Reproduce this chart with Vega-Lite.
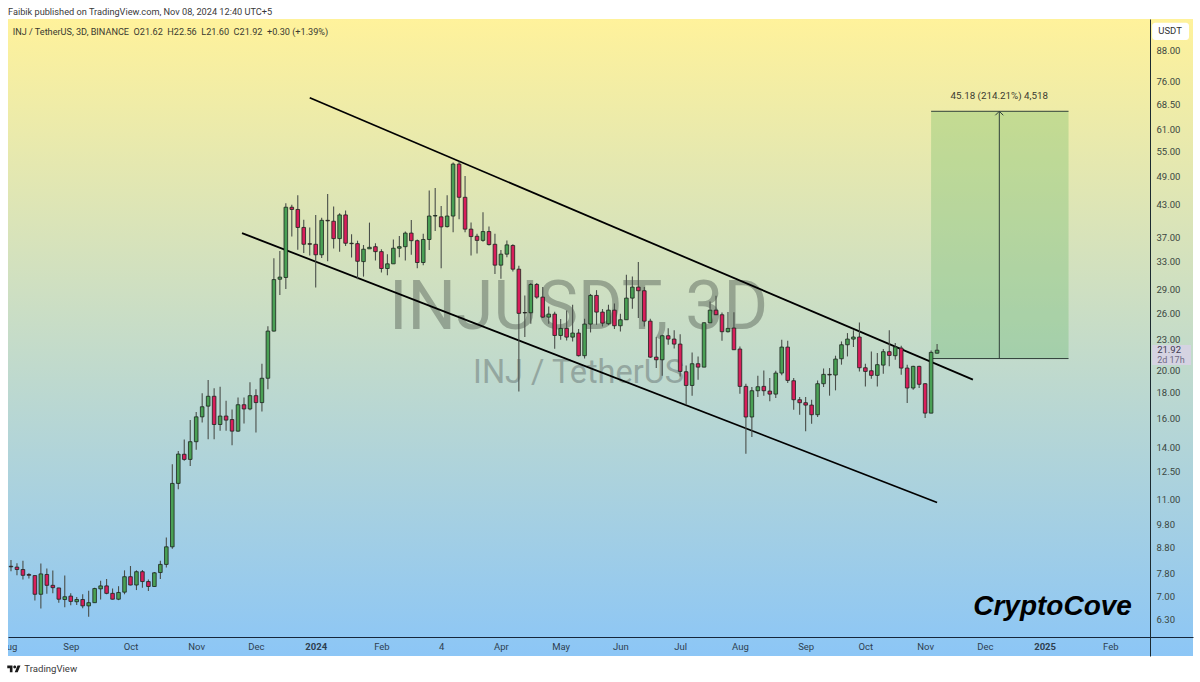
{"$schema":"https://vega.github.io/schema/vega-lite/v6.json","autosize":{"type":"none"},"width":1185,"height":637,"padding":{"left":8,"top":19,"right":7,"bottom":26},"background":"#ffffff","title":{"text":"Faibik published on TradingView.com, Nov 08, 2024 12:40 UTC+5","anchor":"start","frame":"group","font":"Roboto","fontSize":9.2,"fontWeight":"normal","color":"#3a3a3a","offset":2},"config":{"view":{"stroke":null},"font":"Roboto"},"data":{"values":[
{"date":"2023-08-01","open":8.06,"high":8.3,"low":7.88,"close":8.04},{"date":"2023-08-04","open":8.03,"high":8.17,"low":7.73,"close":7.94},{"date":"2023-08-07","open":7.94,"high":8.27,"low":7.58,"close":7.73},{"date":"2023-08-10","open":7.76,"high":7.8,"low":7.62,"close":7.73},{"date":"2023-08-13","open":7.72,"high":7.72,"low":6.88,"close":7.08},{"date":"2023-08-16","open":7.08,"high":8.16,"low":6.63,"close":7.78},{"date":"2023-08-19","open":7.76,"high":7.98,"low":7.1,"close":7.38},{"date":"2023-08-22","open":7.38,"high":7.9,"low":7.11,"close":7.3},{"date":"2023-08-25","open":7.29,"high":7.3,"low":6.81,"close":6.92},{"date":"2023-08-28","open":6.91,"high":7.72,"low":6.67,"close":7.0},{"date":"2023-08-31","open":7.02,"high":7.11,"low":6.73,"close":6.85},
{"date":"2023-09-03","open":6.84,"high":6.99,"low":6.74,"close":6.91},{"date":"2023-09-06","open":6.91,"high":7.08,"low":6.64,"close":6.71},{"date":"2023-09-09","open":6.71,"high":7.2,"low":6.38,"close":6.81},{"date":"2023-09-12","open":6.81,"high":7.3,"low":6.81,"close":7.27},{"date":"2023-09-15","open":7.26,"high":7.54,"low":6.91,"close":7.36},{"date":"2023-09-18","open":7.36,"high":7.6,"low":7.08,"close":7.11},{"date":"2023-09-21","open":7.11,"high":7.27,"low":6.91,"close":6.92},{"date":"2023-09-24","open":6.92,"high":7.35,"low":6.89,"close":7.14},{"date":"2023-09-27","open":7.15,"high":7.91,"low":7.08,"close":7.68},{"date":"2023-09-30","open":7.68,"high":8.07,"low":7.38,"close":7.39},
{"date":"2023-10-03","open":7.39,"high":7.91,"low":7.22,"close":7.86},{"date":"2023-10-06","open":7.86,"high":7.92,"low":7.3,"close":7.51},{"date":"2023-10-09","open":7.51,"high":7.58,"low":7.19,"close":7.34},{"date":"2023-10-12","open":7.34,"high":7.85,"low":7.33,"close":7.82},{"date":"2023-10-15","open":7.83,"high":8.27,"low":7.6,"close":8.13},{"date":"2023-10-18","open":8.13,"high":9.21,"low":8.01,"close":8.82},{"date":"2023-10-21","open":8.82,"high":12.92,"low":8.74,"close":11.83},{"date":"2023-10-24","open":11.83,"high":13.74,"low":11.52,"close":13.55},{"date":"2023-10-27","open":13.54,"high":14.5,"low":13.14,"close":13.22},{"date":"2023-10-30","open":13.22,"high":15.86,"low":12.82,"close":14.35},
{"date":"2023-11-02","open":14.35,"high":16.47,"low":13.83,"close":16.1},{"date":"2023-11-05","open":16.1,"high":17.95,"low":15.69,"close":16.87},{"date":"2023-11-08","open":16.92,"high":19.09,"low":14.51,"close":17.71},{"date":"2023-11-11","open":17.71,"high":18.37,"low":14.51,"close":15.54},{"date":"2023-11-14","open":15.54,"high":18.5,"low":15.09,"close":16.16},{"date":"2023-11-17","open":16.16,"high":17.35,"low":15.09,"close":15.86},{"date":"2023-11-20","open":15.9,"high":16.66,"low":14.12,"close":15.07},{"date":"2023-11-23","open":15.07,"high":17.6,"low":15.03,"close":17.03},{"date":"2023-11-26","open":17.03,"high":17.6,"low":15.62,"close":16.7},{"date":"2023-11-29","open":16.7,"high":18.9,"low":16.6,"close":17.76},
{"date":"2023-12-02","open":17.76,"high":18.3,"low":14.98,"close":17.2},{"date":"2023-12-05","open":17.2,"high":20.58,"low":16.5,"close":19.25},{"date":"2023-12-08","open":19.25,"high":24.5,"low":18.3,"close":23.95},{"date":"2023-12-11","open":23.95,"high":33.56,"low":23.9,"close":30.4},{"date":"2023-12-14","open":30.45,"high":34.7,"low":28.3,"close":30.75},{"date":"2023-12-17","open":30.7,"high":43.3,"low":29.1,"close":42.5},{"date":"2023-12-20","open":42.5,"high":42.97,"low":37.1,"close":42.06},{"date":"2023-12-23","open":42.06,"high":44.9,"low":34.9,"close":38.7},{"date":"2023-12-26","open":38.7,"high":40.1,"low":34.4,"close":35.8},{"date":"2023-12-29","open":35.9,"high":38.7,"low":34.0,"close":35.8},
{"date":"2024-01-01","open":35.8,"high":41.0,"low":29.3,"close":34.1},{"date":"2024-01-04","open":34.1,"high":40.5,"low":33.6,"close":40.0},{"date":"2024-01-07","open":40.0,"high":45.2,"low":33.1,"close":39.9},{"date":"2024-01-10","open":39.83,"high":42.63,"low":35.09,"close":36.75},{"date":"2024-01-13","open":36.75,"high":41.33,"low":34.6,"close":41.01},{"date":"2024-01-16","open":41.01,"high":41.84,"low":35.53,"close":35.97},{"date":"2024-01-19","open":35.97,"high":37.5,"low":33.66,"close":35.9},{"date":"2024-01-22","open":35.9,"high":36.4,"low":30.45,"close":33.09},{"date":"2024-01-25","open":33.04,"high":35.68,"low":30.82,"close":34.99},{"date":"2024-01-28","open":35.05,"high":39.58,"low":35.05,"close":35.3},{"date":"2024-01-31","open":35.4,"high":35.97,"low":33.2,"close":34.6},
{"date":"2024-02-03","open":34.6,"high":34.99,"low":31.4,"close":32.0},{"date":"2024-02-06","open":32.0,"high":34.2,"low":31.0,"close":32.7},{"date":"2024-02-09","open":32.7,"high":36.6,"low":32.7,"close":35.15},{"date":"2024-02-12","open":35.15,"high":37.2,"low":33.7,"close":35.4},{"date":"2024-02-15","open":35.4,"high":37.97,"low":33.2,"close":37.7},{"date":"2024-02-18","open":37.7,"high":40.07,"low":34.1,"close":36.4},{"date":"2024-02-21","open":36.4,"high":36.6,"low":32.04,"close":32.9},{"date":"2024-02-24","open":32.9,"high":37.6,"low":32.5,"close":36.6},{"date":"2024-02-27","open":36.6,"high":45.9,"low":34.87,"close":40.8},
{"date":"2024-03-01","open":40.8,"high":46.47,"low":38.08,"close":40.9},{"date":"2024-03-04","open":40.65,"high":42.75,"low":32.04,"close":38.8},{"date":"2024-03-07","open":38.85,"high":44.9,"low":38.7,"close":40.8},{"date":"2024-03-10","open":40.8,"high":52.25,"low":37.85,"close":51.9},{"date":"2024-03-13","open":51.9,"high":52.5,"low":40.2,"close":44.5},{"date":"2024-03-16","open":44.5,"high":49.1,"low":37.85,"close":38.4},{"date":"2024-03-19","open":38.4,"high":39.6,"low":34.0,"close":37.1},{"date":"2024-03-22","open":37.15,"high":37.6,"low":34.3,"close":36.45},{"date":"2024-03-25","open":36.45,"high":41.5,"low":36.2,"close":37.97},{"date":"2024-03-28","open":37.97,"high":38.85,"low":35.6,"close":35.75},{"date":"2024-03-31","open":35.8,"high":37.6,"low":31.2,"close":32.5},
{"date":"2024-04-03","open":32.5,"high":34.87,"low":30.5,"close":34.2},{"date":"2024-04-06","open":34.2,"high":36.45,"low":33.7,"close":35.7},{"date":"2024-04-09","open":35.6,"high":35.8,"low":31.55,"close":31.9},{"date":"2024-04-12","open":31.9,"high":32.4,"low":18.1,"close":26.0},{"date":"2024-04-15","open":26.1,"high":28.25,"low":23.29,"close":26.05},{"date":"2024-04-18","open":26.07,"high":29.91,"low":24.78,"close":29.72},{"date":"2024-04-21","open":29.72,"high":29.91,"low":27.83,"close":28.03},{"date":"2024-04-24","open":28.03,"high":29.36,"low":25.44,"close":25.55},{"date":"2024-04-27","open":25.55,"high":26.85,"low":24.78,"close":25.91},{"date":"2024-04-30","open":25.91,"high":26.2,"low":22.07,"close":23.47},
{"date":"2024-05-03","open":23.47,"high":25.32,"low":23.01,"close":24.25},{"date":"2024-05-06","open":24.25,"high":26.35,"low":22.94,"close":23.29},{"date":"2024-05-09","open":23.29,"high":27.06,"low":22.83,"close":23.73},{"date":"2024-05-12","open":23.73,"high":24.17,"low":21.3,"close":21.37},{"date":"2024-05-15","open":21.37,"high":25.36,"low":21.1,"close":24.74},{"date":"2024-05-18","open":24.74,"high":28.45,"low":23.8,"close":28.25},{"date":"2024-05-21","open":28.25,"high":28.95,"low":24.66,"close":26.15},{"date":"2024-05-24","open":26.15,"high":26.52,"low":24.47,"close":24.85},{"date":"2024-05-27","open":24.78,"high":27.06,"low":24.63,"close":26.39},{"date":"2024-05-30","open":26.39,"high":27.2,"low":24.17,"close":24.55},
{"date":"2024-06-02","open":24.55,"high":25.95,"low":23.91,"close":25.24},{"date":"2024-06-05","open":25.24,"high":31.08,"low":25.24,"close":27.9},{"date":"2024-06-08","open":27.9,"high":30.85,"low":26.55,"close":29.36},{"date":"2024-06-11","open":29.36,"high":32.96,"low":25.44,"close":28.87},{"date":"2024-06-14","open":28.87,"high":29.36,"low":24.47,"close":25.08},{"date":"2024-06-17","open":25.08,"high":25.36,"low":21.14,"close":21.23},{"date":"2024-06-20","open":21.23,"high":23.29,"low":20.18,"close":20.97},{"date":"2024-06-23","open":20.97,"high":23.55,"low":19.47,"close":23.44},{"date":"2024-06-26","open":23.44,"high":24.28,"low":22.48,"close":23.08},{"date":"2024-06-29","open":23.08,"high":24.05,"low":22.1,"close":22.55},
{"date":"2024-07-02","open":22.55,"high":23.6,"low":19.41,"close":19.87},{"date":"2024-07-05","open":19.84,"high":20.43,"low":17.03,"close":18.62},{"date":"2024-07-08","open":18.62,"high":21.7,"low":17.75,"close":20.59},{"date":"2024-07-11","open":20.59,"high":21.3,"low":19.12,"close":20.27},{"date":"2024-07-14","open":20.27,"high":24.95,"low":20.25,"close":24.89},{"date":"2024-07-17","open":24.89,"high":27.47,"low":24.85,"close":26.39},{"date":"2024-07-20","open":26.39,"high":28.2,"low":25.8,"close":25.83},{"date":"2024-07-23","open":25.83,"high":26.11,"low":22.9,"close":23.88},{"date":"2024-07-26","open":23.88,"high":26.15,"low":23.8,"close":24.25},{"date":"2024-07-29","open":24.29,"high":26.12,"low":21.95,"close":21.97},
{"date":"2024-08-01","open":22.04,"high":22.3,"low":17.92,"close":18.54},{"date":"2024-08-04","open":18.54,"high":18.77,"low":13.57,"close":16.09},{"date":"2024-08-07","open":16.09,"high":18.48,"low":14.66,"close":18.17},{"date":"2024-08-10","open":18.17,"high":19.48,"low":17.65,"close":18.51},{"date":"2024-08-13","open":18.54,"high":19.96,"low":17.76,"close":18.17},{"date":"2024-08-16","open":18.14,"high":19.27,"low":17.3,"close":17.89},{"date":"2024-08-19","open":17.89,"high":19.93,"low":17.56,"close":19.72},{"date":"2024-08-22","open":19.72,"high":23.01,"low":19.51,"close":22.24},{"date":"2024-08-25","open":22.24,"high":22.9,"low":18.83,"close":19.06},{"date":"2024-08-28","open":19.03,"high":19.27,"low":16.64,"close":17.43},{"date":"2024-08-31","open":17.43,"high":17.65,"low":16.26,"close":17.19},
{"date":"2024-09-03","open":17.19,"high":17.65,"low":15.06,"close":17.0},{"date":"2024-09-06","open":17.0,"high":17.43,"low":15.6,"close":16.26},{"date":"2024-09-09","open":16.26,"high":19.06,"low":16.09,"close":18.77},{"date":"2024-09-12","open":18.77,"high":20.15,"low":18.48,"close":19.6},{"date":"2024-09-15","open":19.6,"high":20.18,"low":17.76,"close":19.55},{"date":"2024-09-18","open":19.54,"high":21.37,"low":18.2,"close":21.04},{"date":"2024-09-21","open":21.07,"high":22.83,"low":20.5,"close":22.48},{"date":"2024-09-24","open":22.48,"high":23.73,"low":21.3,"close":23.08},{"date":"2024-09-27","open":23.08,"high":24.03,"low":22.24,"close":23.3},{"date":"2024-09-30","open":23.3,"high":24.93,"low":19.87,"close":20.21},
{"date":"2024-10-03","open":20.21,"high":20.59,"low":18.54,"close":19.87},{"date":"2024-10-06","open":19.93,"high":21.8,"low":19.21,"close":19.51},{"date":"2024-10-09","open":19.51,"high":21.63,"low":18.54,"close":20.5},{"date":"2024-10-12","open":20.46,"high":22.04,"low":19.66,"close":21.77},{"date":"2024-10-15","open":21.77,"high":24.03,"low":20.34,"close":21.4},{"date":"2024-10-18","open":21.37,"high":22.66,"low":20.98,"close":22.24},{"date":"2024-10-21","open":22.14,"high":22.38,"low":19.57,"close":20.18},{"date":"2024-10-24","open":20.18,"high":20.5,"low":17.17,"close":18.4},{"date":"2024-10-27","open":18.4,"high":20.4,"low":18.26,"close":20.34},{"date":"2024-10-30","open":20.34,"high":20.4,"low":18.4,"close":18.72},
{"date":"2024-11-02","open":18.77,"high":18.83,"low":16.01,"close":16.38},{"date":"2024-11-05","open":16.38,"high":21.9,"low":16.38,"close":21.7},{"date":"2024-11-08","open":21.62,"high":22.56,"low":21.6,"close":21.92}
]},
"layer":[
{"data":{"values":[{"from":"2023-07-30T12:00:00Z","to":"2025-03-16T12:00:00Z","floor":5.32,"ceiling":101.6}]},"mark":{"type":"rect","color":{"gradient":"linear","x1":0,"y1":0,"x2":0,"y2":1,"stops":[{"offset":0,"color":"#fff29b"},{"offset":1,"color":"#8cc6f6"}]}},"encoding":{"x":{"field":"from","type":"temporal","scale":{"type":"utc","domain":["2023-07-30T12:00:00Z","2025-03-16T12:00:00Z"],"nice":false,"padding":0},"axis":{"orient":"bottom","offset":-19,"title":null,"grid":false,"ticks":false,"zindex":1,"domainColor":"#16263a","domainWidth":1,"labelFont":"Roboto","labelFontSize":9.5,"labelColor":"#2e3f50","labelPadding":4,"labelOverlap":false,"labelFlush":false,"values":["2023-08-31T00:00:00Z","2023-09-30T00:00:00Z","2023-11-02T00:00:00Z","2023-12-02T00:00:00Z","2024-01-01T00:00:00Z","2024-02-03T00:00:00Z","2024-03-04T00:00:00Z","2024-04-03T00:00:00Z","2024-05-03T00:00:00Z","2024-06-02T00:00:00Z","2024-07-02T00:00:00Z","2024-08-01T00:00:00Z","2024-09-03T00:00:00Z","2024-10-03T00:00:00Z","2024-11-02T00:00:00Z","2024-12-02T00:00:00Z","2025-01-01T00:00:00Z","2025-02-03T00:00:00Z"],"labelExpr":"utcmonth(datum.value)==0 ? utcFormat(datum.value,'%Y') : (utcmonth(datum.value)==2 ? '4' : utcFormat(time(datum.value)+172800000,'%b'))","labelFontWeight":{"condition":{"test":"utcmonth(datum.value)==0","value":"bold"},"value":"normal"}}},"x2":{"field":"to"},"y":{"field":"floor","type":"quantitative","scale":{"type":"log","domain":[5.32,101.6],"nice":false},"axis":{"orient":"right","offset":-43,"title":null,"grid":false,"ticks":false,"zindex":1,"domainColor":"#1c2a30","domainWidth":1,"labelFont":"Roboto","labelFontSize":9.5,"labelColor":"#3a4640","labelPadding":6,"labelOverlap":false,"labelFlush":false,"format":".2f","values":[88,76,68.5,61,55,49,43,37,33,29,26,23,20,18,16,14,12.5,11,9.8,8.8,7.8,7,6.3]}},"y2":{"field":"ceiling"}}},
{"data":{"values":[{"date":"2024-05-12","price":26.5,"label":"INJUSDT, 3D"}]},"mark":{"type":"text","font":"Roboto","fontSize":68,"color":"#5f6a5f","opacity":0.5,"align":"center","baseline":"middle"},"encoding":{"x":{"field":"date","type":"temporal"},"y":{"field":"price","type":"quantitative"},"text":{"field":"label"}}},
{"data":{"values":[{"date":"2024-05-12","price":19.72,"label":"INJ / TetherUS"}]},"mark":{"type":"text","font":"Roboto","fontSize":32.5,"color":"#5f6a6a","opacity":0.45,"align":"center","baseline":"middle"},"encoding":{"x":{"field":"date","type":"temporal"},"y":{"field":"price","type":"quantitative"},"text":{"field":"label"}}},
{"data":{"name":"target","values":[{"start":"2024-11-05","end":"2025-01-13","mid":"2024-12-09T06:00:00Z","low":21.09,"high":66.27,"label":"45.18 (214.21%) 4,518"}]},"mark":{"type":"rect","color":"#4caf50","opacity":0.26},"encoding":{"x":{"field":"start","type":"temporal"},"x2":{"field":"end"},"y":{"field":"low","type":"quantitative"},"y2":{"field":"high"}}},
{"data":{"name":"target"},"mark":{"type":"rule","color":"#30403a","strokeWidth":1},"encoding":{"x":{"field":"start","type":"temporal"},"x2":{"field":"end"},"y":{"field":"low","type":"quantitative"}}},
{"data":{"name":"target"},"mark":{"type":"rule","color":"#30403a","strokeWidth":1},"encoding":{"x":{"field":"start","type":"temporal"},"x2":{"field":"end"},"y":{"field":"high","type":"quantitative"}}},
{"data":{"name":"target"},"mark":{"type":"rule","color":"#30403a","strokeWidth":1},"encoding":{"x":{"field":"mid","type":"temporal"},"y":{"field":"low","type":"quantitative"},"y2":{"field":"high"}}},
{"data":{"name":"target"},"mark":{"type":"point","shape":"M-1,1L0,0L1,1","size":64,"filled":false,"color":"#30403a","strokeWidth":1,"opacity":1},"encoding":{"x":{"field":"mid","type":"temporal"},"y":{"field":"high","type":"quantitative"}}},
{"data":{"name":"target"},"mark":{"type":"text","font":"Roboto","fontSize":9.8,"color":"#3a3a30","dy":-15,"align":"center","baseline":"middle"},"encoding":{"x":{"field":"mid","type":"temporal"},"y":{"field":"high","type":"quantitative"},"text":{"field":"label"}}},
{"data":{"values":[{"line":"upper","date":"2023-12-29","price":70.56},{"line":"upper","date":"2024-11-26","price":19.13},{"line":"lower","date":"2023-11-25","price":37.7},{"line":"lower","date":"2024-11-08","price":10.83}]},"mark":{"type":"line","color":"#000000","strokeWidth":1.8},"encoding":{"x":{"field":"date","type":"temporal"},"y":{"field":"price","type":"quantitative"},"detail":{"field":"line"}}},
{"mark":{"type":"rule","color":"#4a4f4a","strokeWidth":1.1},"encoding":{"x":{"field":"date","type":"temporal"},"y":{"field":"low","type":"quantitative"},"y2":{"field":"high"}}},
{"mark":{"type":"bar","size":3.6,"stroke":"#1c241e","strokeWidth":0.8},"encoding":{"x":{"field":"date","type":"temporal"},"y":{"field":"open","type":"quantitative"},"y2":{"field":"close"},"color":{"condition":{"test":"datum.close>=datum.open","value":"#4aa055"},"value":"#d81e5b"}}},
{"data":{"values":[{"date":"2023-08-01T20:00:00Z","price":95.6,"label":"INJ / TetherUS, 3D, BINANCE\u00a0\u00a0O21.62\u00a0\u00a0H22.56\u00a0\u00a0L21.60\u00a0\u00a0C21.92\u00a0\u00a0+0.30 (+1.39%)"}]},"mark":{"type":"text","font":"Roboto","fontSize":9.15,"color":"#3a3a30","align":"left","baseline":"middle"},"encoding":{"x":{"field":"date","type":"temporal"},"y":{"field":"price","type":"quantitative"},"text":{"field":"label"}}},
{"data":{"values":[{"date":"2023-07-31","price":5.545,"label":"Aug"}]},"mark":{"type":"text","font":"Roboto","fontSize":9.5,"color":"#2e3f50","align":"center","baseline":"middle","clip":true},"encoding":{"x":{"field":"date","type":"temporal"},"y":{"field":"price","type":"quantitative"},"text":{"field":"label"}}},
{"data":{"values":[{"date":"2025-01-05","price":6.68,"label":"CryptoCove"}]},"mark":{"type":"text","font":"Liberation Sans","fontSize":28,"fontWeight":"bold","fontStyle":"italic","color":"#000000","align":"center","baseline":"middle"},"encoding":{"x":{"field":"date","type":"temporal"},"y":{"field":"price","type":"quantitative"},"text":{"field":"label"}}},
{"data":{"values":[{"from":"2025-02-24","to":"2025-03-14T12:00:00Z","floor":92.2,"ceiling":99.85}]},"mark":{"type":"rect","color":"#ffffff","cornerRadius":3},"encoding":{"x":{"field":"from","type":"temporal"},"x2":{"field":"to"},"y":{"field":"floor","type":"quantitative"},"y2":{"field":"ceiling"}}},
{"data":{"values":[{"date":"2025-03-05","price":96.1,"label":"USDT"}]},"mark":{"type":"text","font":"Roboto","fontSize":9.5,"color":"#333333","align":"center","baseline":"middle"},"encoding":{"x":{"field":"date","type":"temporal"},"y":{"field":"price","type":"quantitative"},"text":{"field":"label"}}},
{"data":{"values":[{"from":"2025-02-24","to":"2025-03-15T12:00:00Z","floor":20.47,"ceiling":22.46}]},"mark":{"type":"rect","color":"#d5d3e2"},"encoding":{"x":{"field":"from","type":"temporal"},"x2":{"field":"to"},"y":{"field":"floor","type":"quantitative"},"y2":{"field":"ceiling"}}},
{"data":{"values":[{"date":"2025-02-26T12:00:00Z","price":21.92,"label":"21.92"}]},"mark":{"type":"text","font":"Roboto","fontSize":9.5,"color":"#3f3a50","align":"left","baseline":"middle"},"encoding":{"x":{"field":"date","type":"temporal"},"y":{"field":"price","type":"quantitative"},"text":{"field":"label"}}},
{"data":{"values":[{"date":"2025-02-26T12:00:00Z","price":20.98,"label":"2d 17h"}]},"mark":{"type":"text","font":"Roboto","fontSize":9,"color":"#6f6a85","align":"left","baseline":"middle"},"encoding":{"x":{"field":"date","type":"temporal"},"y":{"field":"price","type":"quantitative"},"text":{"field":"label"}}},
{"data":{"values":[{"date":"2023-08-02T12:00:00Z","price":5.01}]},"mark":{"type":"point","shape":"M-0.222,0.5H-0.611V-0.111H-1V-0.5H-0.222ZM0.556,0.5H0.111L0.528,-0.5H0.972ZM-0.11,-0.28A0.22,0.22,0,1,1,0.33,-0.28A0.22,0.22,0,1,1,-0.11,-0.28Z","size":180,"filled":true,"color":"#1a1a1a","opacity":1},"encoding":{"x":{"field":"date","type":"temporal"},"y":{"field":"price","type":"quantitative"}}},
{"data":{"values":[{"date":"2023-08-07T17:00:00Z","price":5.01,"label":"TradingView"}]},"mark":{"type":"text","font":"Roboto","fontSize":9.6,"color":"#3a3a3a","align":"left","baseline":"middle"},"encoding":{"x":{"field":"date","type":"temporal"},"y":{"field":"price","type":"quantitative"},"text":{"field":"label"}}}
]}
